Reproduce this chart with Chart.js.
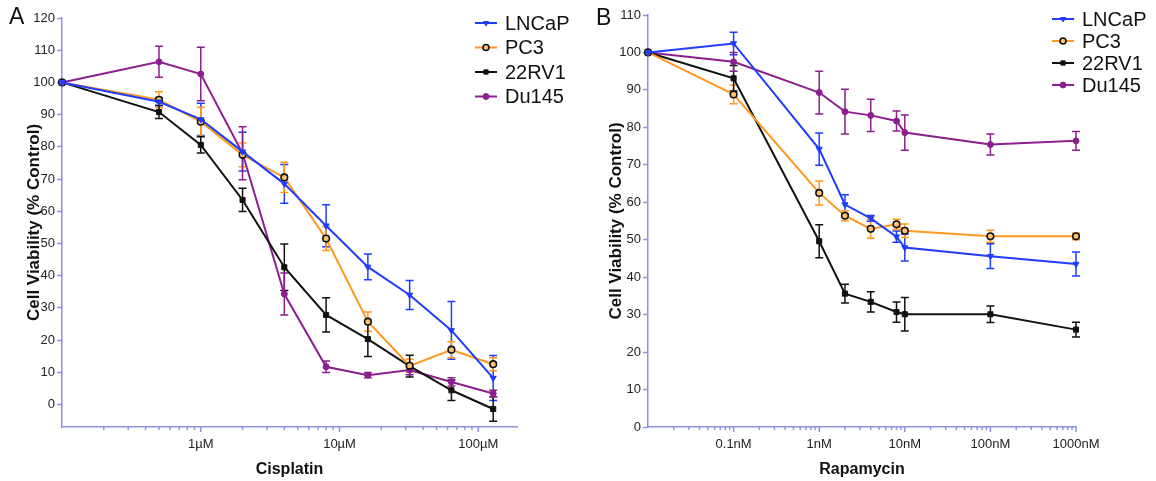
<!DOCTYPE html>
<html>
<head>
<meta charset="utf-8">
<script src="https://cdn.jsdelivr.net/npm/chart.js@4.4.1/dist/chart.umd.min.js"></script>
<style>
  body { margin: 0; background: #fff; width: 1156px; height: 481px; overflow: hidden; position: relative; font-family: "Liberation Sans", Arial, sans-serif; }
  .panel { position: absolute; top: 0; height: 481px; }
  #wrapA { left: 0; width: 580px; }
  #wrapB { left: 580px; width: 576px; }
  .tag { position: absolute; font-size: 23px; color: #111; line-height: 1; }
</style>
</head>
<body>
<div class="panel" id="wrapA"><canvas id="chartA"></canvas></div>
<div class="panel" id="wrapB"><canvas id="chartB"></canvas></div>
<div class="tag" style="left:9px;top:5px">A</div>
<div class="tag" style="left:596px;top:6px">B</div>
<script>
const cellLines = ["LNCaP", "PC3", "22RV1", "Du145"];

// panel A - cisplatin (µM), first point is the untreated control
const cisplatinDoses = [0.1, 0.5, 1, 2, 4, 8, 16, 32, 64, 128];
const cisLNCaP = [100, 94, 88.5, 78.5, 68.5, 55.5, 42.7, 34, 23, 8.2];
const cisLNCaPErr = [0, 1.2, 5, 6, 6, 6.5, 4, 4.5, 9, 7];
const cisPC3 = [100, 94.6, 87.8, 77.5, 70.5, 51.5, 25.7, 12, 17, 12.5];
const cisPC3Err = [0, 2.5, 4.5, 3.7, 4.7, 3.7, 3, 2, 2.5, 2];
const cis22RV1 = [100, 90.8, 80.6, 63.5, 42.6, 27.8, 20.3, 11.9, 4.4, -1.4];
const cis22RV1Err = [0, 2, 2.5, 3.6, 7.2, 5.3, 5.4, 3.4, 3.2, 3.8];
const cisDu145 = [100, 106.4, 102.6, 78, 34.3, 11.7, 9.1, 10.7, 7, 3.4];
const cisDu145Err = [0, 4.8, 8.3, 8.2, 6.5, 1.8, 0.8, 1.5, 1.3, 1];
const cisYTicks = [0, 10, 20, 30, 40, 50, 60, 70, 80, 90, 100, 110, 120];
const cisXTicks = [1, 10, 100];
const cisXLabels = ["1µM", "10µM", "100µM"];

// panel B - rapamycin (nM)
const rapamycinDoses = [0.01, 0.1, 1, 2, 4, 8, 10, 100, 1000];
const rapLNCaP = [100, 102.4, 74.2, 59.4, 55.7, 50.8, 47.9, 45.6, 43.5];
const rapLNCaPErr = [0, 3, 4.3, 2.6, 0.8, 1.5, 3.6, 3.3, 3.2];
const rapPC3 = [100, 88.8, 62.5, 56.4, 52.9, 54.1, 52.4, 50.9, 50.9];
const rapPC3Err = [0, 2.5, 3.2, 1.3, 2.5, 1.4, 1.8, 1.6, 0.9];
const rap22RV1 = [100, 93.1, 49.6, 35.6, 33.4, 30.7, 30.1, 30.1, 26];
const rap22RV1Err = [0, 3.4, 4.4, 2.5, 2.7, 2.7, 4.5, 2.2, 2];
const rapDu145 = [100, 97.5, 89.3, 84.2, 83.2, 81.7, 78.6, 75.4, 76.4];
const rapDu145Err = [0, 2.5, 5.7, 6, 4.3, 2.7, 4.7, 2.8, 2.5];
const rapYTicks = [0, 10, 20, 30, 40, 50, 60, 70, 80, 90, 100, 110];
const rapXTicks = [0.1, 1, 10, 100, 1000];
const rapXLabels = ["0.1nM", "1nM", "10nM", "100nM", "1000nM"];

const axisColor = "#8d93dc";
const FONT = "'Liberation Sans', Arial, sans-serif";
const styles = [
  { color: "#1f3cff", fill: "#1f3cff", pointStyle: "triangle", rotation: 180, radius: 3.5, borderWidth: 1 },
  { color: "#ff981c", fill: "#ffc070", pointStyle: "circle", rotation: 0, radius: 3.3, borderWidth: 1.6, border: "#111" },
  { color: "#111111", fill: "#111111", pointStyle: "rect", rotation: 0, radius: 3.6, borderWidth: 1 },
  { color: "#8c1f8e", fill: "#8c1f8e", pointStyle: "circle", rotation: 0, radius: 3, borderWidth: 1 },
];

function buildDatasets(doses, series, errs) {
  return series.map((vals, k) => {
    const s = styles[k];
    return {
      label: cellLines[k],
      data: doses.map((d, i) => ({ x: d, y: vals[i] })),
      errors: errs[k],
      borderColor: s.color,
      backgroundColor: s.fill,
      borderWidth: 2,
      pointStyle: s.pointStyle,
      rotation: s.rotation,
      pointRadius: s.radius,
      pointBorderWidth: s.borderWidth,
      pointBorderColor: s.border || s.color,
      pointBackgroundColor: s.fill,
      tension: 0,
      clip: false,
    };
  });
}

// vertical error bars with caps, drawn under the markers
const errorBars = {
  id: "errorBars",
  beforeDatasetsDraw(chart) {
    const ctx = chart.ctx;
    const xs = chart.scales.x, ys = chart.scales.y;
    chart.data.datasets.forEach((ds) => {
      ctx.save();
      ctx.strokeStyle = ds.borderColor;
      ctx.lineWidth = 1.5;
      ds.data.forEach((p, i) => {
        const e = ds.errors[i];
        if (!e) return;
        const px = xs.getPixelForValue(p.x);
        const top = ys.getPixelForValue(p.y + e);
        const bot = ys.getPixelForValue(p.y - e);
        ctx.beginPath();
        ctx.moveTo(px, top); ctx.lineTo(px, bot);
        ctx.moveTo(px - 4, top); ctx.lineTo(px + 4, top);
        ctx.moveTo(px - 4, bot); ctx.lineTo(px + 4, bot);
        ctx.stroke();
      });
      ctx.restore();
    });
  },
};

// log axis tick marks: long at decades, short in between
const logTicks = {
  id: "logTicks",
  afterDraw(chart) {
    const xs = chart.scales.x;
    const ctx = chart.ctx;
    const y0 = chart.chartArea.bottom;
    ctx.save();
    ctx.strokeStyle = axisColor;
    ctx.lineWidth = 1.5;
    let dec = Math.pow(10, Math.floor(Math.log10(xs.min)));
    while (dec <= xs.max) {
      for (let m = 1; m < 10; m++) {
        const v = dec * m;
        if (v <= xs.min * 1.0001 || v > xs.max) continue;
        const px = xs.getPixelForValue(v);
        ctx.beginPath();
        ctx.moveTo(px, y0);
        ctx.lineTo(px, y0 + (m === 1 ? 5 : 3));
        ctx.stroke();
      }
      dec *= 10;
    }
    ctx.restore();
  },
};

const legendBox = {
  id: "legendBox",
  afterDraw(chart, args, opts) {
    const ctx = chart.ctx;
    ctx.save();
    chart.data.datasets.forEach((ds, k) => {
      const y = opts.y + k * opts.gap;
      ctx.strokeStyle = ds.borderColor;
      ctx.lineWidth = 2;
      ctx.beginPath();
      ctx.moveTo(opts.x, y); ctx.lineTo(opts.x + 22, y);
      ctx.stroke();
      ctx.fillStyle = ds.pointBackgroundColor;
      ctx.strokeStyle = ds.pointBorderColor;
      ctx.lineWidth = ds.pointBorderWidth;
      Chart.helpers.drawPoint(ctx, {
        pointStyle: ds.pointStyle, rotation: ds.rotation,
        radius: Math.min(ds.pointRadius, 3), borderWidth: ds.pointBorderWidth,
      }, opts.x + 11, y);
      ctx.fillStyle = "#111";
      ctx.font = "20px " + FONT;
      ctx.textBaseline = "middle";
      ctx.textAlign = "left";
      ctx.fillText(ds.label, opts.x + 30, y + 1);
    });
    ctx.restore();
  },
};

function makeChart(id, cfg) {
  return new Chart(document.getElementById(id), {
    type: "line",
    data: { datasets: cfg.datasets },
    plugins: [errorBars, logTicks, legendBox],
    options: {
      responsive: true,
      maintainAspectRatio: false,
      animation: false,
      events: [],
      layout: { padding: cfg.padding },
      plugins: {
        legend: { display: false },
        tooltip: { enabled: false },
        legendBox: cfg.legend,
      },
      scales: {
        x: {
          type: "logarithmic",
          min: cfg.xMin,
          max: cfg.xMax,
          afterBuildTicks: (s) => { s.ticks = cfg.xTicks.map((v) => ({ value: v, major: true })); },
          afterFit: (s) => { s.height = 54; },
          ticks: {
            callback: (v, i) => cfg.xLabels[i],
            font: { size: 13, family: FONT },
            color: "#222",
            padding: 2,
            maxRotation: 0,
            autoSkip: false,
          },
          grid: { display: false },
          border: { display: true, color: axisColor, width: 1.5 },
          title: {
            display: true, text: cfg.xTitle, color: "#111",
            font: { size: 16, weight: "bold", family: FONT },
            padding: { top: 0, bottom: 2 },
          },
        },
        y: {
          type: "linear",
          min: cfg.yMin,
          max: cfg.yMax,
          afterBuildTicks: (s) => { s.ticks = cfg.yTicks.map((v) => ({ value: v })); },
          afterFit: (s) => { s.width = cfg.yWidth; },
          ticks: { font: { size: 13, family: FONT }, color: "#222", padding: 2 },
          grid: { display: true, drawOnChartArea: false, drawTicks: true, tickLength: 5, tickColor: axisColor, tickWidth: 1.5 },
          border: { display: true, color: axisColor, width: 1.5 },
          title: {
            display: true, text: "Cell Viability (% Control)", color: "#111",
            font: { size: 17, weight: "bold", family: FONT },
            padding: { top: cfg.yTitlePad, bottom: 0 },
          },
        },
      },
    },
  });
}

makeChart("chartA", {
  datasets: buildDatasets(cisplatinDoses, [cisLNCaP, cisPC3, cis22RV1, cisDu145],
    [cisLNCaPErr, cisPC3Err, cis22RV1Err, cisDu145Err]),
  padding: { left: 0, top: 18, right: 63, bottom: 0 },
  xMin: 0.1, xMax: 190, xTicks: cisXTicks, xLabels: cisXLabels, xTitle: "Cisplatin",
  yMin: -7, yMax: 120, yTicks: cisYTicks, yWidth: 62, yTitlePad: 24,
  legend: { x: 475, y: 23, gap: 24.5 },
});

makeChart("chartB", {
  datasets: buildDatasets(rapamycinDoses, [rapLNCaP, rapPC3, rap22RV1, rapDu145],
    [rapLNCaPErr, rapPC3Err, rap22RV1Err, rapDu145Err]),
  padding: { left: 0, top: 15, right: 80, bottom: 0 },
  xMin: 0.01, xMax: 1000, xTicks: rapXTicks, xLabels: rapXLabels, xTitle: "Rapamycin",
  yMin: 0, yMax: 110, yTicks: rapYTicks, yWidth: 68, yTitlePad: 26,
  legend: { x: 472, y: 19, gap: 22 },
});
</script>
</body>
</html>
